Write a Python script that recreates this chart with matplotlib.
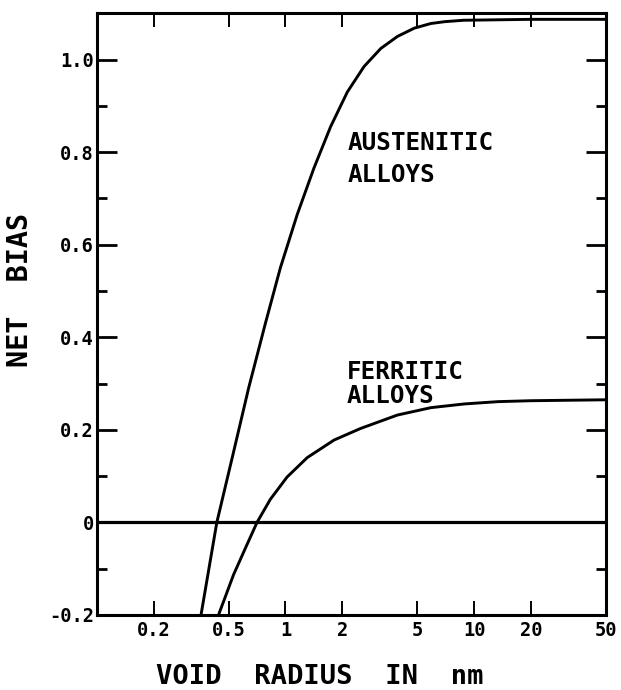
import matplotlib
matplotlib.use("Agg")
import matplotlib.pyplot as plt
from matplotlib.ticker import FixedLocator

# values (void radius in nm, net bias)
aust_r = [0.357, 0.433, 0.531, 0.638, 0.783, 0.94, 1.154, 1.414, 1.735,
          2.128, 2.609, 3.2, 3.92, 4.82, 5.9, 7.0, 8.8, 20.0, 50.0]
aust_bias = [-0.2, 0.0, 0.152, 0.29, 0.43, 0.55, 0.665, 0.765, 0.855,
             0.93, 0.985, 1.024, 1.050, 1.068, 1.078, 1.082, 1.085, 1.087,
             1.087]

ferr_r = [0.442, 0.531, 0.613, 0.707, 0.832, 1.02, 1.304, 1.81, 2.5, 3.92,
          5.9, 8.87, 13.4, 20.1, 50.0]
ferr_bias = [-0.2, -0.113, -0.056, 0.0, 0.05, 0.098, 0.14, 0.178, 0.203,
             0.232, 0.248, 0.256, 0.261, 0.263, 0.265]

xticks = [0.2, 0.5, 1, 2, 5, 10, 20, 50]
xticklabels = ["0.2", "0.5", "1", "2", "5", "10", "20", "50"]
yticks = [-0.2, 0.0, 0.2, 0.4, 0.6, 0.8, 1.0]
yticklabels = ["-0.2", "0", "0.2", "0.4", "0.6", "0.8", "1.0"]
yminor = [-0.1, 0.1, 0.3, 0.5, 0.7, 0.9]

font = "DejaVu Sans Mono"
lw = 2.1

fig = plt.figure(figsize=(6.21, 6.90), dpi=100)
ax = fig.add_axes([0.1557, 0.1087, 0.8203, 0.872])

ax.plot(aust_r, aust_bias, color="k", lw=lw, solid_joinstyle="round")
ax.plot(ferr_r, ferr_bias, color="k", lw=lw, solid_joinstyle="round")
ax.axhline(0.0, color="k", lw=2.3)

ax.set_xscale("log")
ax.set_xlim(0.1, 50)
ax.set_ylim(-0.197, 1.1)

ax.xaxis.set_major_locator(FixedLocator(xticks))
ax.xaxis.set_minor_locator(FixedLocator([]))
ax.set_xticklabels(xticklabels)
ax.set_yticks(yticks)
ax.set_yticklabels(yticklabels)
ax.yaxis.set_minor_locator(FixedLocator(yminor))

ax.tick_params(axis="x", which="major", direction="in", length=10, width=1.4,
               top=True, bottom=True, pad=4)
ax.tick_params(axis="y", which="major", direction="in", length=14.5, width=2.0,
               left=True, right=True, pad=2)
ax.tick_params(axis="y", which="minor", direction="in", length=7, width=2.0,
               left=True, right=True)

for lab in ax.get_xticklabels() + ax.get_yticklabels():
    lab.set_family(font)
    lab.set_weight("bold")
    lab.set_fontsize(13.5)

for sp in ax.spines.values():
    sp.set_linewidth(2.2)

lbl = dict(family=font, weight="bold", fontsize=17.5, color="k",
           va="center", ha="left", linespacing=1.0)
ax.text(2.14, 0.819, "AUSTENITIC", **lbl)
ax.text(2.14, 0.751, "ALLOYS", **lbl)
ax.text(2.11, 0.325, "FERRITIC", **lbl)
ax.text(2.11, 0.273, "ALLOYS", **lbl)

fig.text(0.0322, 1 - 290 / 690, "NET  BIAS", rotation=90, family=font,
         weight="bold", fontsize=20.5, ha="center", va="center")
fig.text(0.5144, 1 - 677 / 690, "VOID  RADIUS  IN  nm", family=font,
         weight="bold", fontsize=19.5, ha="center", va="center")

fig.savefig("out.png", dpi=100)
